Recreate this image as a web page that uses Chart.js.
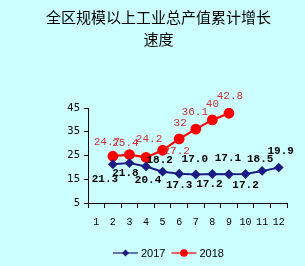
<!DOCTYPE html>
<html>
<head>
<meta charset="utf-8">
<script src="https://cdn.jsdelivr.net/npm/chart.js@4/dist/chart.umd.min.js"></script>
<style>
  html, body { margin: 0; padding: 0; background: #ccffff; }
  #wrap { width: 305px; height: 266px; }
</style>
</head>
<body>
<div id="wrap"><canvas id="myChart"></canvas></div>
<script>
const months = ["1", "2", "3", "4", "5", "6", "7", "8", "9", "10", "11", "12"];
const data2017 = [null, 21.3, 21.8, 20.4, 18.2, 17.3, 17.0, 17.2, 17.1, 17.2, 18.5, 19.9];
const data2018 = [null, 24.7, 25.4, 24.2, 27.2, 32, 36.1, 40, 42.8, null, null, null];
const labels2017 = ["", "21.3", "21.8", "20.4", "18.2", "17.3", "17.0", "17.2", "17.1", "17.2", "18.5", "19.9"];
const labels2018 = ["", "24.7", "25.4", "24.2", "27.2", "32", "36.1", "40", "42.8", "", "", ""];
const yTicks = [5, 15, 25, 35, 45];

// where each value label sits relative to its point
const offs2017 = [null, [-8, 15], [-4, 10], [2, 14], [-3, -11], [0, 11], [-1, -15], [-3, 10], [-1, -16], [0, 11], [-2, -12], [2, -16]];
const offs2018 = [null, [-6, -14], [-4, -11], [3, -18], [14, 1], [1, -16], [-1, -17], [0, -16], [1, -17]];

const NAVY = "#1c1c84";
const RED = "#ff0000";

const valueLabels = {
  id: "valueLabels",
  afterDatasetsDraw(chart) {
    const ctx = chart.ctx;
    ctx.save();
    ctx.textAlign = "center";
    ctx.textBaseline = "middle";
    chart.data.datasets.forEach((ds, i) => {
      const meta = chart.getDatasetMeta(i);
      meta.data.forEach((pt, j) => {
        const txt = ds.valueText[j];
        if (!txt) return;
        const o = ds.valueOffs[j];
        ctx.font = ds.valueFont;
        ctx.fillStyle = ds.valueColor;
        ctx.fillText(txt, pt.x + o[0], pt.y + o[1]);
      });
    });
    ctx.restore();
  },
};

// legend: short line with the marker through it, then the year
const lineLegend = {
  id: "lineLegend",
  afterDraw(chart) {
    const ctx = chart.ctx;
    const y = chart.height - 13;
    let x = 113;
    ctx.save();
    ctx.font = "11px 'Liberation Sans'";
    ctx.textBaseline = "middle";
    chart.data.datasets.forEach((ds) => {
      const w = 25;
      ctx.strokeStyle = ds.borderColor;
      ctx.lineWidth = 1.2;
      ctx.beginPath();
      ctx.moveTo(x, y);
      ctx.lineTo(x + w, y);
      ctx.stroke();
      ctx.fillStyle = ds.borderColor;
      ctx.beginPath();
      const cx = x + w / 2;
      if (ds.pointStyle === "circle") {
        ctx.arc(cx, y, 3.8, 0, Math.PI * 2);
      } else {
        ctx.moveTo(cx, y - 3.5);
        ctx.lineTo(cx + 3.5, y);
        ctx.lineTo(cx, y + 3.5);
        ctx.lineTo(cx - 3.5, y);
        ctx.closePath();
      }
      ctx.fill();
      ctx.fillStyle = "#000000";
      ctx.fillText(ds.label, x + w + 3, y + 1);
      x += w + 3 + ctx.measureText(ds.label).width + 6;
    });
    ctx.restore();
  },
};

const ctx = document.getElementById("myChart").getContext("2d");
const myChart = new Chart(ctx, {
  type: "line",
  data: {
    labels: months,
    datasets: [
      {
        label: "2017",
        data: data2017,
        borderColor: NAVY,
        backgroundColor: NAVY,
        borderWidth: 2,
        pointStyle: "rectRot",
        pointRadius: 3.5,
        pointHoverRadius: 3.5,
        valueText: labels2017,
        valueOffs: offs2017,
        valueFont: "bold 11px 'Liberation Mono'",
        valueColor: "#000000",
      },
      {
        label: "2018",
        data: data2018,
        borderColor: RED,
        backgroundColor: RED,
        borderWidth: 2.2,
        pointStyle: "circle",
        pointRadius: 4.3,
        pointHoverRadius: 4.3,
        valueText: labels2018,
        valueOffs: offs2018,
        valueFont: "11px 'Liberation Mono'",
        valueColor: "#cc3333",
      },
    ],
  },
  options: {
    responsive: true,
    maintainAspectRatio: false,
    animation: false,
    layout: { padding: { left: 30, right: 18, top: 0, bottom: 25 } },
    scales: {
      x: {
        offset: true,
        border: { color: "#000000", width: 1 },
        grid: { offset: true, drawOnChartArea: false, tickLength: 5, color: "#000000" },
        ticks: { color: "#000000", font: { family: "'Liberation Mono'", size: 10 }, padding: 8, maxRotation: 0, autoSkip: false },
        afterFit: (scale) => { scale.height = 38; },
      },
      y: {
        min: 5,
        max: 45,
        afterBuildTicks: (scale) => { scale.ticks = yTicks.map((v) => ({ value: v })); },
        border: { color: "#000000", width: 1 },
        grid: { drawOnChartArea: false, tickLength: 4, color: "#000000" },
        ticks: { color: "#000000", font: { family: "'DejaVu Sans'", size: 10 }, padding: 4 },
        afterFit: (scale) => { scale.width = 58; },
      },
    },
    plugins: {
      title: {
        display: true,
        text: ["全区规模以上工业总产值累计增长", "速度"],
        color: "#000000",
        font: { family: "'Noto Sans CJK SC'", size: 15, weight: "normal", lineHeight: 1.5 },
        padding: { top: 6, bottom: 57 },
      },
      legend: { display: false },
      tooltip: { enabled: false },
    },
  },
  plugins: [valueLabels, lineLegend],
});
</script>
</body>
</html>
